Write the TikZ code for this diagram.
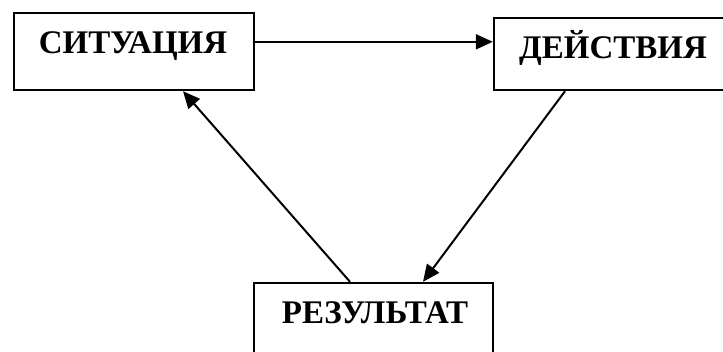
\documentclass[tikz,border=0pt]{standalone}
\usepackage{fontspec}
\setmainfont{Liberation Serif}
\usetikzlibrary{arrows.meta,calc}
\begin{document}
\begin{tikzpicture}[x=1pt,y=1pt,
  box/.style={draw,line width=2.4pt,rectangle,inner sep=0pt},
  lbl/.style={font=\bfseries\fontsize{33}{33}\selectfont,anchor=base,inner sep=0pt},
  conn/.style={line width=2pt,-{Triangle[length=17pt,width=15pt]}}]
\useasboundingbox (0,0) rectangle (723,-351);
\node[box,minimum width=240pt,minimum height=77pt] (b1) at (134,-51.5) {};
\node[box,minimum width=236pt,minimum height=72pt] (b2) at (612,-54) {};
\node[box,minimum width=239pt,minimum height=77pt] (b3) at (373.5,-321.5) {};
\node[lbl] (t1) at (133,-53) {СИТУАЦИЯ};
\node[lbl] (t2) at (613,-58) {ДЕЙСТВИЯ};
\node[lbl] (t3) at (375,-323) {РЕЗУЛЬТАТ};
\draw[conn] ($(b1.north east)+(0,-30)$) -- ($(b2.north west)+(0,-25)$);
\draw[conn] ($(b2.south)+(-47,0)$) -- ($(b3.north)+(49.5,0)$);
\draw[conn] ($(b3.north)+(-23.5,0)$) -- ($(b1.south)+(49,0)$);
\end{tikzpicture}
\end{document}
